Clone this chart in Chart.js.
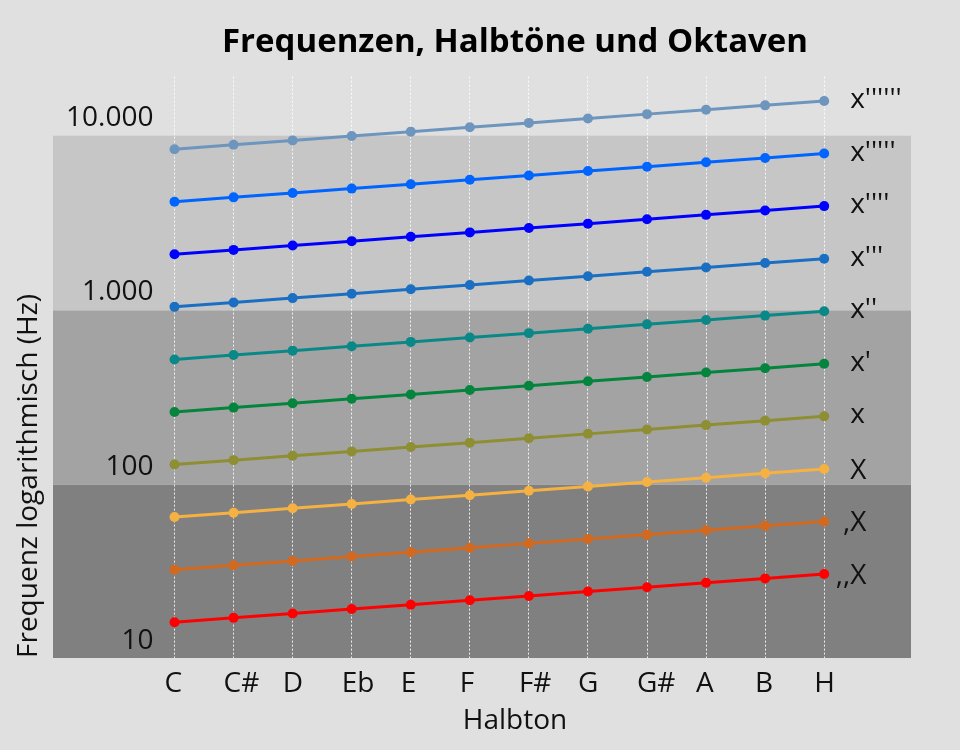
<!DOCTYPE html>
<html lang="de">
<head>
<meta charset="utf-8">
<title>Frequenzen, Halbtöne und Oktaven</title>
<script src="https://cdn.jsdelivr.net/npm/chart.js@4.4.1/dist/chart.umd.min.js"></script>
<style>
  body { margin: 0; background: #e0e0e0; }
  canvas { display: block; }
</style>
</head>
<body>
<canvas id="myChart" width="960" height="750"></canvas>
<script>
// Halbtöne und Oktaven-Namen
var halbtoene = ['C', 'C#', 'D', 'Eb', 'E', 'F', 'F#', 'G', 'G#', 'A', 'B', 'H'];
var oktaven = [',,X', ',X', 'X', 'x', "x'", "x''", "x'''", "x''''", "x'''''", "x''''''"];

// Frequenzen in Hz je Oktave
var okt0 = [16.35, 17.32, 18.35, 19.45, 20.60, 21.83, 23.12, 24.50, 25.96, 27.50, 29.14, 30.87];
var okt1 = [32.70, 34.65, 36.71, 38.89, 41.20, 43.65, 46.25, 49.00, 51.91, 55.00, 58.27, 61.74];
var okt2 = [65.41, 69.30, 73.42, 77.78, 82.41, 87.31, 92.50, 98.00, 103.83, 110.00, 116.54, 123.47];
var okt3 = [130.81, 138.59, 146.83, 155.56, 164.81, 174.61, 185.00, 196.00, 207.65, 220.00, 233.08, 246.94];
var okt4 = [261.63, 277.18, 293.66, 311.13, 329.63, 349.23, 369.99, 392.00, 415.30, 440.00, 466.16, 493.88];
var okt5 = [523.25, 554.37, 587.33, 622.25, 659.26, 698.46, 739.99, 783.99, 830.61, 880.00, 932.33, 987.77];
var okt6 = [1046.50, 1108.73, 1174.66, 1244.51, 1318.51, 1396.91, 1479.98, 1567.98, 1661.22, 1760.00, 1864.66, 1975.53];
var okt7 = [2093.00, 2217.46, 2349.32, 2489.02, 2637.02, 2793.83, 2959.96, 3135.96, 3322.44, 3520.00, 3729.31, 3951.07];
var okt8 = [4186.01, 4434.92, 4698.64, 4978.03, 5274.04, 5587.65, 5919.91, 6271.93, 6644.88, 7040.00, 7458.62, 7902.13];
var okt9 = [8372.02, 8869.84, 9397.27, 9956.06, 10548.08, 11175.30, 11839.82, 12543.85, 13289.75, 14080.00, 14917.24, 15804.27];

var yTicks = [10, 100, 1000, 10000];
var yTickLabels = ['10', '100', '1.000', '10.000'];
var baender = [[10, 100], [100, 1000], [1000, 10000]];

var reihen = [okt0, okt1, okt2, okt3, okt4, okt5, okt6, okt7, okt8, okt9];
var farben = ['#ff0000', '#d2691e', '#f5b142', '#8e8e32', '#05843e', '#0a8888', '#1b6fc2', '#0000ff', '#0064ff', '#6e95bd'];
var bandFarben = ['#808080', '#a3a3a3', '#c6c6c6'];

Chart.defaults.font.family = '"Open Sans", "Noto Sans", sans-serif';
Chart.defaults.color = '#111';

var hintergrund = {
    id: 'hintergrund',
    beforeDraw: function(chart)
    {
        var ctx = chart.ctx;
        var a = chart.chartArea;
        var y = chart.scales.y;
        ctx.save();
        ctx.fillStyle = '#e0e0e0';
        ctx.fillRect(0, 0, chart.width, chart.height);
        for (var i = 0; i < baender.length; i++) {
            var oben = y.getPixelForValue(baender[i][1]);
            var unten = Math.min(y.getPixelForValue(baender[i][0]), a.bottom);
            ctx.fillStyle = bandFarben[i];
            ctx.fillRect(a.left - 66, oben, a.right - a.left + 66, unten - oben);
        }
        ctx.restore();
    }
};

var beschriftung = {
    id: 'beschriftung',
    afterDatasetsDraw: function(chart)
    {
        var ctx = chart.ctx;
        ctx.save();
        ctx.font = '28px "Open Sans", "Noto Sans", sans-serif';
        ctx.fillStyle = '#111';
        ctx.textBaseline = 'alphabetic';
        chart.data.datasets.forEach(function(ds, i) {
            var pts = chart.getDatasetMeta(i).data;
            var p = pts[pts.length - 1];
            var komma = ds.label.match(/^,*/)[0];
            var x = p.x + 26 - ctx.measureText(komma).width;
            var y = p.y + (ds.label.indexOf('X') >= 0 ? 10 : 7);
            ctx.fillText(ds.label, x, y);
        });
        ctx.restore();
    }
};

var datasets = reihen.map(function(werte, i) {
    return {
        label: oktaven[i],
        data: werte.map(function(v, j) { return { x: j, y: v }; }),
        borderColor: farben[i],
        backgroundColor: farben[i],
        borderWidth: 3,
        pointRadius: 5,
        pointBorderWidth: 0,
        tension: 0
    };
});

var ctx = document.getElementById('myChart').getContext('2d');
var myChart = new Chart(ctx, {
    type: 'line',
    data: { datasets: datasets },
    options: {
        responsive: false,
        animation: false,
        layout: { padding: { left: 8, right: 49, top: 0, bottom: 0 } },
        plugins: {
            legend: { display: false },
            tooltip: { enabled: false },
            title: {
                display: true,
                fullSize: false,
                text: 'Frequenzen, Halbtöne und Oktaven',
                color: '#000',
                font: { size: 33, weight: 'bold' },
                padding: { top: 23, bottom: 14 }
            }
        },
        scales: {
            x: {
                type: 'linear',
                min: -0.94,
                max: 12.47,
                afterBuildTicks: function(s) {
                    s.ticks = halbtoene.map(function(n, i) { return { value: i }; });
                },
                afterFit: function(s) { s.height = 92; },
                ticks: {
                    autoSkip: false,
                    maxRotation: 0,
                    align: 'start',
                    labelOffset: -10,
                    padding: 9,
                    font: { size: 28 },
                    callback: function(v) { return halbtoene[v]; }
                },
                grid: { color: 'rgba(255,255,255,0.85)', lineWidth: 1, drawTicks: false },
                border: { display: false, dash: [2, 2] },
                title: {
                    display: true,
                    text: 'Halbton',
                    font: { size: 28 },
                    padding: { top: 0, bottom: 12 }
                }
            },
            y: {
                type: 'logarithmic',
                min: 10.2,
                max: 21800,
                afterBuildTicks: function(s) {
                    s.ticks = yTicks.map(function(v) { return { value: v }; });
                },
                afterFit: function(s) { s.width = 111; },
                ticks: {
                    mirror: true,
                    crossAlign: 'far',
                    padding: -53,
                    labelOffset: -18,
                    font: { size: 28 },
                    callback: function(v, i) { return yTickLabels[i]; }
                },
                grid: { display: false },
                border: { display: false },
                title: {
                    display: true,
                    align: 'start',
                    text: 'Frequenz logarithmisch (Hz)',
                    font: { size: 28 },
                    padding: { top: 4, bottom: 0 }
                }
            }
        }
    },
    plugins: [hintergrund, beschriftung]
});
</script>
</body>
</html>
